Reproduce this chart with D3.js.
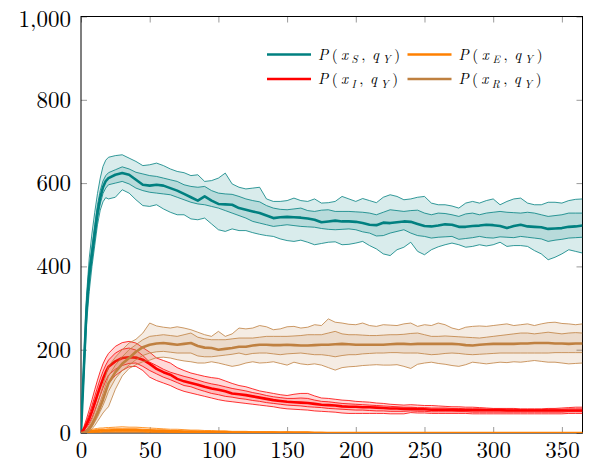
<!DOCTYPE html>
<html><head><meta charset="utf-8">
<script src="https://cdn.jsdelivr.net/npm/d3@7"></script>
<style>body{margin:0;background:#fff}</style>
</head><body>
<svg id="chart" width="592" height="468"></svg>
<script>
const days = [0,2,4,6,8,10,12,14,16,18,20,
25,30,35,40,45,50,55,60,65,70,75,80,85,90,95,100,105,110,115,120,125,130,135,140,145,150,155,160,165,170,175,180,185,190,195,200,205,210,215,220,225,230,235,240,245,250,255,260,265,270,275,280,285,290,295,300,305,310,315,320,325,330,335,340,345,350,355,360,365];

// S series (teal)
const S_med = [0,150,295,380,430,480,530,565,590,605,612,
620,624,620,608,596,594,596,594,588,582,574,566,558,568,558,550,549,548,540,536,532,528,522,516,518,519,518,517,515,512,506,508,510,508,508,507,504,500,499,505,504,506,508,507,502,497,496,498,501,500,495,495,497,498,500,499,497,492,497,500,496,495,494,490,491,492,495,496,498];
const S_hi2 = [0,175,330,420,480,530,575,612,640,655,662,
666,668,660,652,642,644,648,642,634,628,625,618,620,604,606,612,624,598,590,586,588,590,562,556,556,558,564,558,556,562,552,553,556,568,562,556,563,558,553,566,572,568,560,562,566,568,552,548,548,545,540,552,556,552,558,562,548,556,562,564,552,548,548,554,554,552,558,561,562];
const S_hi1 = [0,160,310,398,448,500,548,582,605,618,625,
632,639,634,626,622,618,616,612,608,604,596,592,590,592,582,576,574,573,568,562,558,555,546,540,537,536,538,540,534,532,535,536,532,532,532,531,530,528,524,530,536,534,532,534,535,528,524,528,527,524,520,526,528,524,528,530,532,530,529,528,530,528,524,520,522,524,528,528,528];
const S_lo1 = [0,140,280,362,415,465,515,550,575,588,596,
600,604,598,588,582,578,576,574,572,566,560,554,550,548,544,540,534,528,522,516,508,504,500,496,498,500,498,496,495,494,491,489,488,489,490,488,483,480,473,474,480,484,488,480,474,472,468,470,471,472,465,467,469,472,469,468,471,470,469,472,470,468,466,460,463,465,468,469,470];
const S_lo2 = [0,125,260,340,400,450,500,535,555,565,562,
566,584,576,560,546,544,548,538,530,524,524,514,512,516,502,488,484,490,486,486,481,477,474,472,466,462,460,463,458,452,455,458,459,452,453,456,460,450,442,430,426,440,446,458,436,428,440,447,452,456,452,446,448,452,449,452,458,448,450,450,448,438,430,416,422,430,440,436,432];

// E series (orange)
const E_med = [0,1,2,3,4,5,5,6,6,6,6,
7,7,7,7,6,6,5,5,4,4,3,3,3,2,2,2,2,1,1,1,1,1,1,1,1,1,1,1,1,0,0,0,0,0,0,0,0,0,0,0,0,0,0,0,0,0,0,0,0,0,0,0,0,0,0,0,0,0,0,0,0,0,0,0,0,0,0,0,0];
const E_hi2 = [0,3,5,7,9,10,11,12,12,13,13,
14,15,14,14,13,12,11,10,9,9,8,7,7,6,6,5,5,4,4,4,3,3,3,3,2,3,2,2,2,2,2,1,1,1,1,1,1,1,1,1,1,1,1,1,1,1,1,1,1,1,1,1,1,1,1,1,1,1,1,1,1,1,1,1,1,1,1,1,1];
const E_hi1 = [0,2,3,5,6,7,8,9,9,9,10,
10,10,10,10,9,8,7,7,6,6,5,5,4,4,3,3,3,2,2,2,2,2,2,2,1,1,1,1,1,1,1,1,1,1,0,0,0,0,0,0,0,0,0,0,0,0,0,0,0,0,0,0,0,0,0,0,0,0,0,0,0,0,0,0,0,0,0,0,0];
const E_lo1 = [0,0,1,1,2,3,3,3,4,4,4,
4,4,4,4,4,3,3,3,2,2,2,1,1,1,1,1,1,0,0,0,0,0,0,0,0,0,0,0,0,0,0,0,0,0,0,0,0,0,0,0,0,0,0,0,0,0,0,0,0,0,0,0,0,0,0,0,0,0,0,0,0,0,0,0,0,0,0,0,0];
const E_lo2 = [0,0,0,0,1,1,1,1,2,2,2,
2,2,2,2,2,1,1,1,1,1,0,0,0,0,0,0,0,0,0,0,0,0,0,0,0,0,0,0,0,0,0,0,0,0,0,0,0,0,0,0,0,0,0,0,0,0,0,0,0,0,0,0,0,0,0,0,0,0,0,0,0,0,0,0,0,0,0,0,0];

// I series (red)
const I_med = [0,8,20,34,52,72,92,112,130,146,159,
172,180,182,181,176,166,154,146,140,130,124,120,116,111,107,104,100,95,93,91,88,85,82,79,77,75,74,73,72,70,68,67,66,64,63,63,62,62,61,60,59,59,58,58,57,57,56,56,56,56,55,55,55,55,55,55,55,54,54,54,54,54,54,54,54,54,54,54,54];
const I_hi2 = [0,14,34,56,80,104,127,148,166,180,191,
208,217,220,216,205,194,180,174,168,157,150,144,140,136,133,131,125,119,114,111,106,101,98,95,92,90,93,95,95,89,84,83,81,79,78,76,75,74,72,71,69,68,67,68,67,66,66,65,64,63,63,62,62,61,60,59,59,59,59,58,58,58,58,59,59,60,61,62,62];
const I_hi1 = [0,11,27,45,66,88,110,130,148,163,175,
192,201,204,199,186,170,162,153,146,141,136,132,127,122,118,115,111,107,104,101,97,94,90,87,85,83,83,84,83,79,76,75,73,71,70,69,68,67,66,65,64,63,62,62,61,61,60,60,60,59,59,58,58,58,57,57,57,57,57,56,56,56,56,57,57,57,58,58,58];
const I_lo1 = [0,5,13,23,37,54,72,90,108,125,139,
153,162,167,168,160,150,142,134,128,121,114,111,105,100,95,92,88,86,83,81,78,76,73,71,69,67,66,65,63,62,61,59,58,57,56,55,55,54,53,53,52,52,52,53,52,52,51,51,51,51,51,51,50,50,50,50,50,50,50,50,50,50,50,50,50,50,51,51,51];
const I_lo2 = [0,3,8,14,24,36,48,62,84,104,119,
138,150,159,160,150,134,126,120,114,106,100,96,92,88,84,80,77,75,73,71,69,67,65,63,60,58,57,56,55,53,52,51,50,48,47,47,47,47,47,47,46,46,46,49,48,48,47,47,47,47,47,47,46,46,46,46,46,46,46,46,46,46,46,46,46,46,47,47,47];

// R series (brown)
const R_med = [0,1,4,10,20,33,47,63,80,100,119,
146,166,180,195,206,212,215,216,214,212,214,216,209,205,204,200,202,204,207,207,210,212,212,211,211,212,211,210,210,211,212,212,213,214,213,212,212,212,212,212,213,214,214,213,214,214,214,214,214,214,213,211,210,212,213,214,214,214,214,215,215,216,216,216,215,215,214,215,215];
const R_hi2 = [0,2,8,18,32,50,70,92,115,138,160,
182,200,216,225,240,264,257,254,252,255,252,248,242,236,232,244,232,238,252,250,252,258,255,248,250,255,256,252,254,260,258,274,266,264,261,260,264,258,256,260,259,258,262,264,256,260,258,264,260,252,248,254,256,257,256,258,260,262,258,260,262,258,262,265,266,263,262,260,262];
const R_hi1 = [0,1,5,13,25,40,57,75,95,116,136,
163,183,200,212,224,232,234,236,234,232,236,240,230,226,224,224,224,226,228,228,228,230,232,232,232,232,233,234,236,236,236,240,244,238,236,236,235,234,234,235,236,236,237,239,240,236,232,232,233,232,231,230,229,228,230,232,234,236,238,240,240,238,240,242,240,238,240,241,240];
const R_lo1 = [0,0,3,7,15,26,38,52,66,82,100,
130,150,163,176,186,192,195,196,194,192,192,192,185,183,183,185,187,189,192,188,191,192,192,190,188,190,191,192,190,188,188,186,183,186,188,188,190,191,192,192,193,193,192,192,192,190,188,189,191,192,191,189,188,189,190,191,192,192,192,192,192,192,192,192,193,193,193,193,193];
const R_lo2 = [0,0,1,4,10,18,28,38,48,56,63,
105,137,155,164,171,175,181,182,180,176,173,171,168,168,171,168,164,160,163,168,171,168,169,171,167,163,170,166,164,166,163,157,151,157,159,160,162,163,164,163,163,164,160,155,165,168,170,167,165,162,160,164,170,168,166,168,170,169,171,170,172,174,172,170,170,168,166,167,168];

const xTickValues = [0,50,100,150,200,250,300,350];
const yTickValues = [0,200,400,600,800,1000];

const seriesList = [
  {key:'S', color:'#008080', med:S_med, lo2:S_lo2, lo1:S_lo1, hi1:S_hi1, hi2:S_hi2, mw:2.6},
  {key:'E', color:'#ff8000', med:E_med, lo2:E_lo2, lo1:E_lo1, hi1:E_hi1, hi2:E_hi2, mw:2.6},
  {key:'I', color:'#ff0000', med:I_med, lo2:I_lo2, lo1:I_lo1, hi1:I_hi1, hi2:I_hi2, mw:2.6},
  {key:'R', color:'#bf8040', med:R_med, lo2:R_lo2, lo1:R_lo1, hi1:R_hi1, hi2:R_hi2, mw:2.6}
];
const legendItems = [
  {sub:'S', color:'#008080', col:0, row:0, w:82},
  {sub:'E', color:'#ff8000', col:1, row:0, w:84},
  {sub:'I', color:'#ff0000', col:0, row:1, w:80},
  {sub:'R', color:'#bf8040', col:1, row:1, w:83}
];

const svg = d3.select('#chart');
const L = 81, R = 582.5, T = 16.5, B = 433;
const x = d3.scaleLinear().domain([0,365]).range([L,R]);
const y = d3.scaleLinear().domain([0,1000]).range([B,T]);
const FONT = "'Latin Modern Roman','CMU Serif','Liberation Serif',serif";

svg.append('defs').append('clipPath').attr('id','clip')
  .append('rect').attr('x',L).attr('y',T).attr('width',R-L).attr('height',B-T);

// axes
const tickColor = '#9a9a9a';
const gB = svg.append('g').attr('transform',`translate(0,${B})`)
  .call(d3.axisBottom(x).tickValues(xTickValues).tickSizeInner(-6).tickSizeOuter(0).tickPadding(9));
const gT = svg.append('g').attr('transform',`translate(0,${T})`)
  .call(d3.axisTop(x).tickValues(xTickValues).tickSizeInner(-6).tickSizeOuter(0).tickFormat(''));
const gL = svg.append('g').attr('transform',`translate(${L},0)`)
  .call(d3.axisLeft(y).tickValues(yTickValues).tickSizeInner(-6).tickSizeOuter(0).tickPadding(10).tickFormat(d3.format(',')));
const gR = svg.append('g').attr('transform',`translate(${R},0)`)
  .call(d3.axisRight(y).tickValues(yTickValues).tickSizeInner(-6).tickSizeOuter(0).tickFormat(''));
[gB,gT,gL,gR].forEach(g=>{
  g.select('.domain').remove();
  g.selectAll('.tick line').attr('stroke',tickColor).attr('stroke-width',1);
  g.selectAll('.tick text').attr('fill','#000').style('font-family',FONT).style('font-size','23px');
});
// keep the top label fully inside the picture
gL.selectAll('.tick').filter(d=>d===1000).select('text').attr('dy','0.42em');

svg.append('rect').attr('x',L).attr('y',T).attr('width',R-L).attr('height',B-T)
  .attr('fill','none').attr('stroke','#000').attr('stroke-width',1);

// data
const plot = svg.append('g').attr('clip-path','url(#clip)');
seriesList.forEach(s=>{
  const rows = days.map((d,i)=>({d, med:s.med[i], lo2:s.lo2[i], lo1:s.lo1[i], hi1:s.hi1[i], hi2:s.hi2[i]}));
  const g = plot.append('g');
  const areaOuter = d3.area().x(r=>x(r.d)).y0(r=>y(r.lo2)).y1(r=>y(r.hi2));
  const areaInner = d3.area().x(r=>x(r.d)).y0(r=>y(r.lo1)).y1(r=>y(r.hi1));
  g.append('path').datum(rows).attr('d',areaOuter).attr('fill',s.color).attr('fill-opacity',0.15);
  g.append('path').datum(rows).attr('d',areaInner).attr('fill',s.color).attr('fill-opacity',0.15);
  ['lo2','lo1','hi1','hi2'].forEach(k=>{
    g.append('path').datum(rows).attr('d',d3.line().x(r=>x(r.d)).y(r=>y(r[k])))
      .attr('fill','none').attr('stroke',s.color).attr('stroke-width',0.8);
  });
  g.append('path').datum(rows).attr('d',d3.line().x(r=>x(r.d)).y(r=>y(r.med)))
    .attr('fill','none').attr('stroke',s.color).attr('stroke-width',s.mw).attr('stroke-linejoin','round');
});

// legend
const lg = svg.append('g');
const colX = [267, 407.5];
const rowY = [54.5, 79];
legendItems.forEach(it=>{
  const lx = colX[it.col], ly = rowY[it.row];
  lg.append('line').attr('x1',lx).attr('x2',lx+44).attr('y1',ly).attr('y2',ly)
    .attr('stroke',it.color).attr('stroke-width',2.6);
  const t = lg.append('text').attr('x',lx+51).attr('y',ly+5)
    .style('font-family',FONT).style('font-size','15px').attr('fill','#000')
    .attr('textLength', it.w).attr('lengthAdjust','spacing');
  t.append('tspan').attr('font-style','italic').text('P');
  t.append('tspan').text('(');
  t.append('tspan').attr('font-style','italic').text('x');
  t.append('tspan').attr('font-style','italic').attr('font-size','11px').attr('dy',3.5).text(it.sub);
  t.append('tspan').attr('dy',-3.5).text(',');
  t.append('tspan').attr('font-style','italic').attr('dx',3).text('q');
  t.append('tspan').attr('font-style','italic').attr('font-size','11px').attr('dy',3.5).text('Y');
  t.append('tspan').attr('dy',-3.5).text(')');
});
</script>
</body></html>
